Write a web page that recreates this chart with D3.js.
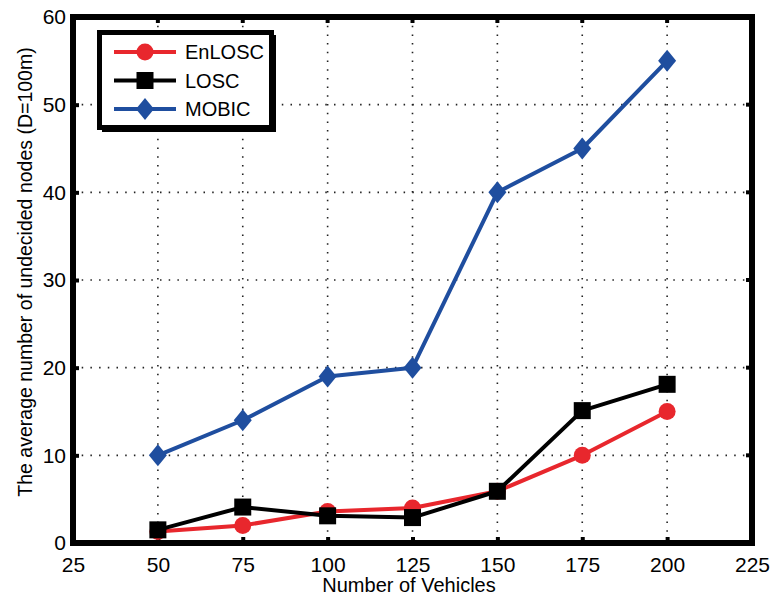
<!DOCTYPE html>
<html>
<head>
<meta charset="utf-8">
<script src="https://cdn.jsdelivr.net/npm/d3@7"></script>
<style>
  html, body { margin: 0; padding: 0; background: #fff; }
  svg { display: block; font-family: "Liberation Sans", Arial, sans-serif; }
</style>
</head>
<body>
<svg id="chart" width="772" height="597"></svg>
<script>
// Number of vehicles on the x axis
const vehicles = [50, 75, 100, 125, 150, 175, 200];
// Average number of undecided nodes per scheme
const enlosc = [1.3, 2.0, 3.6, 4.0, 5.9, 10, 15];
const losc   = [1.5, 4.1, 3.1, 2.9, 5.9, 15.1, 18.1];
const mobic  = [10, 14, 19, 20, 40, 45, 55];

const xTicks = [25, 50, 75, 100, 125, 150, 175, 200, 225];
const yTicks = [0, 10, 20, 30, 40, 50, 60];

const seriesList = [
  { name: "EnLOSC", values: enlosc, color: "#e8272d", marker: "circle" },
  { name: "LOSC",   values: losc,   color: "#000000", marker: "square" },
  { name: "MOBIC",  values: mobic,  color: "#1f4e9f", marker: "diamond" }
];

const svg = d3.select("#chart");
const plotL = 73, plotR = 752, plotT = 17, plotB = 543;

const x = d3.scaleLinear().domain([25, 225]).range([plotL, plotR]);
const y = d3.scaleLinear().domain([0, 60]).range([plotB, plotT]);

// dotted grid
const grid = svg.append("g");
grid.selectAll("line.v").data(xTicks.slice(1, -1)).enter().append("line")
  .attr("x1", d => x(d)).attr("x2", d => x(d))
  .attr("y1", plotT).attr("y2", plotB)
  .attr("stroke", "#222").attr("stroke-width", 1.6)
  .attr("stroke-dasharray", "1.5,7.2");
grid.selectAll("line.h").data(yTicks.slice(1, -1)).enter().append("line")
  .attr("x1", plotL).attr("x2", plotR)
  .attr("y1", d => y(d)).attr("y2", d => y(d))
  .attr("stroke", "#222").attr("stroke-width", 1.6)
  .attr("stroke-dasharray", "1.5,7.2");

// axes
const xAxis = d3.axisBottom(x).tickValues(xTicks).tickSize(-6).tickPadding(14).tickFormat(d3.format("d"));
const yAxis = d3.axisLeft(y).tickValues(yTicks).tickSize(-6).tickPadding(7).tickFormat(d3.format("d"));

const gx = svg.append("g").attr("transform", `translate(0,${plotB})`).call(xAxis);
const gy = svg.append("g").attr("transform", `translate(${plotL},0)`).call(yAxis);
[gx, gy].forEach(g => {
  g.select(".domain").remove();
  g.selectAll(".tick line").attr("stroke", "#000").attr("stroke-width", 4);
  g.selectAll(".tick text").attr("fill", "#000").attr("font-size", 21)
    .attr("font-family", "Liberation Sans, Arial, sans-serif");
});
// ticks on top and right edges
svg.append("g").selectAll("line").data(xTicks).enter().append("line")
  .attr("x1", d => x(d)).attr("x2", d => x(d)).attr("y1", plotT).attr("y2", plotT + 6)
  .attr("stroke", "#000").attr("stroke-width", 4);
svg.append("g").selectAll("line").data(yTicks).enter().append("line")
  .attr("x1", plotR).attr("x2", plotR - 6).attr("y1", d => y(d)).attr("y2", d => y(d))
  .attr("stroke", "#000").attr("stroke-width", 4);

// frame
svg.append("rect").attr("x", plotL).attr("y", plotT)
  .attr("width", plotR - plotL).attr("height", plotB - plotT)
  .attr("fill", "none").attr("stroke", "#000").attr("stroke-width", 6);

function drawMarker(g, type, cx, cy, color) {
  if (type === "circle") {
    g.append("circle").attr("cx", cx).attr("cy", cy).attr("r", 8.5).attr("fill", color);
  } else if (type === "square") {
    g.append("rect").attr("x", cx - 8.5).attr("y", cy - 8.5).attr("width", 17).attr("height", 17).attr("fill", color);
  } else {
    g.append("path").attr("d", `M${cx},${cy - 11}L${cx + 9},${cy}L${cx},${cy + 11}L${cx - 9},${cy}Z`).attr("fill", color);
  }
}

const line = d3.line().x((d, i) => x(vehicles[i])).y(d => y(d));
seriesList.forEach(s => {
  const g = svg.append("g");
  g.append("path").datum(s.values).attr("d", line)
    .attr("fill", "none").attr("stroke", s.color).attr("stroke-width", 4)
    .attr("stroke-linejoin", "round");
  s.values.forEach((v, i) => drawMarker(g, s.marker, x(vehicles[i]), y(v), s.color));
});

// legend
const lg = svg.append("g");
lg.append("rect").attr("x", 102).attr("y", 35).attr("width", 174).attr("height", 97).attr("fill", "#000");
lg.append("rect").attr("x", 99.5).attr("y", 32.5).attr("width", 172).attr("height", 95)
  .attr("fill", "#fff").attr("stroke", "#000").attr("stroke-width", 5);
seriesList.forEach((s, i) => {
  const cy = 52 + i * 28.5;
  lg.append("line").attr("x1", 114).attr("x2", 176).attr("y1", cy).attr("y2", cy)
    .attr("stroke", s.color).attr("stroke-width", 4);
  drawMarker(lg, s.marker, 145, cy, s.color);
  lg.append("text").attr("x", 185).attr("y", cy).attr("dy", "0.36em")
    .attr("font-size", 20).attr("fill", "#000").text(s.name);
});

// axis titles
svg.append("text").attr("x", 409).attr("y", 592).attr("text-anchor", "middle")
  .attr("font-size", 20).attr("fill", "#000").text("Number of Vehicles");
svg.append("text").attr("transform", `translate(32,272) rotate(-90)`)
  .attr("text-anchor", "middle").attr("font-size", 19.5).attr("fill", "#000")
  .text("The average number of undecided nodes (D=100m)");
</script>
</body>
</html>
